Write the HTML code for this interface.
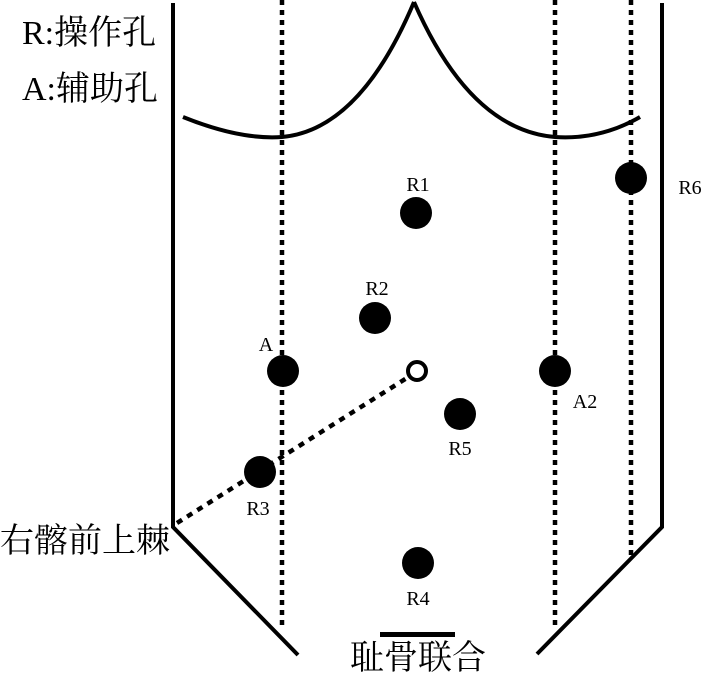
<!DOCTYPE html>
<html><head><meta charset="utf-8"><style>
body{margin:0;background:#fff;width:706px;height:675px;overflow:hidden}
</style></head><body>
<svg width="706" height="675" viewBox="0 0 706 675" xmlns="http://www.w3.org/2000/svg">
<g stroke="#000" fill="none" stroke-width="4">
<polyline points="173,3 173,527 298,655"/>
<polyline points="662,3 662,527 537,654"/>
<path d="M183,117 Q240,140 282,137 Q360,130 414,2"/>
<path d="M414,2 Q470,130 555,137 Q600,140 640,117"/>
</g>
<g stroke="#000" stroke-width="4.5" stroke-dasharray="5,5" fill="none">
<line x1="282" y1="0" x2="282" y2="628"/>
<line x1="555" y1="0" x2="555" y2="628"/>
<line x1="631" y1="0" x2="631" y2="555"/>
<line x1="177" y1="523" x2="410" y2="376" stroke-dasharray="6,6"/>
</g>
<g fill="#000">
<circle cx="416" cy="213" r="16"/>
<circle cx="375" cy="318" r="16"/>
<circle cx="283" cy="371" r="16"/>
<circle cx="555" cy="371" r="16"/>
<circle cx="460" cy="414" r="16"/>
<circle cx="260" cy="472" r="16"/>
<circle cx="418" cy="563" r="16"/>
<circle cx="631" cy="178" r="16"/>
</g>
<circle cx="417" cy="371" r="9" fill="#fff" stroke="#000" stroke-width="4"/>
<rect x="380" y="632" width="75" height="5" fill="#000"/>
<g font-family="Liberation Serif, serif" font-size="20" fill="#000" text-anchor="middle">
<text x="418" y="191">R1</text>
<text x="377" y="295">R2</text>
<text x="266" y="351">A</text>
<text x="585" y="408">A2</text>
<text x="460" y="455">R5</text>
<text x="258" y="515">R3</text>
<text x="418" y="605">R4</text>
<text x="690" y="194">R6</text>
</g>
<g font-family="Liberation Serif, 'Noto Serif CJK SC', serif" font-size="34" fill="#000">
<text x="22" y="44">R:操作孔</text>
<text x="22" y="100">A:辅助孔</text>
<text x="0" y="552">右髂前上棘</text>
<text x="350" y="669">耻骨联合</text>
</g>
</svg>
</body></html>
